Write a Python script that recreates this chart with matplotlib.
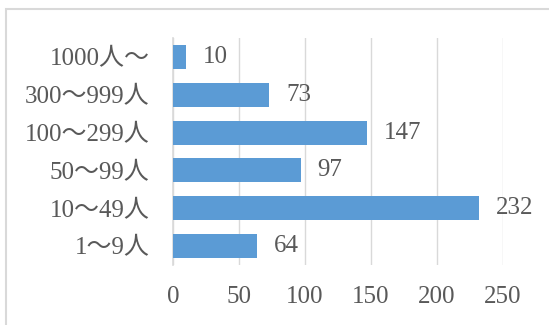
import matplotlib
matplotlib.use("Agg")
import matplotlib.pyplot as plt
from matplotlib.patches import Rectangle

categories = ["1～9人", "10～49人", "50～99人", "100～299人", "300～999人", "1000人～"]
values = [64, 232, 97, 147, 73, 10]
xticks = [0, 50, 100, 150, 200, 250]

fam = ["Liberation Serif", "Noto Sans CJK JP", "DejaVu Sans"]
txt = "#595959"
bar_color = "#5B9BD5"
grid_color = "#D9D9D9"
fs = 18

W, H = 549, 325
fig = plt.figure(figsize=(W / 100, H / 100), dpi=100)

# outer chart frame
fig.patches.append(Rectangle((6 / W, -0.1), 1.2, 1 - 9 / H + 0.1,
                             transform=fig.transFigure, fill=False,
                             edgecolor=grid_color, linewidth=1.5))

ax = fig.add_axes([173 / W, 1 - 265 / H, (503 - 173) / W, (265 - 38) / H])
y = range(len(categories))
ax.barh(y, values, height=0.63, color=bar_color, zorder=3)
ax.set_xlim(0, 250)
ax.set_ylim(-0.5, len(categories) - 0.5)
ax.set_xticks(xticks)
ax.set_xticklabels([str(v) for v in xticks], family=fam, fontsize=fs, color=txt)
ax.set_yticks(list(y))
ax.set_yticklabels(categories, family=fam, fontsize=fs, color=txt)
ax.tick_params(axis="both", length=0)
ax.tick_params(axis="x", pad=15)
ax.tick_params(axis="y", pad=17)
ax.grid(axis="x", color=grid_color, linewidth=1, zorder=0)
for s in ["top", "right", "bottom"]:
    ax.spines[s].set_visible(False)
ax.spines["left"].set_color(grid_color)
ax.spines["left"].set_linewidth(1.2)

for yi, v in zip(y, values):
    ax.annotate(str(v), (v, yi), xytext=(12, 0), textcoords="offset points",
                va="center", ha="left", family=fam, fontsize=fs, color=txt)

fig.savefig("out.png", dpi=100)
